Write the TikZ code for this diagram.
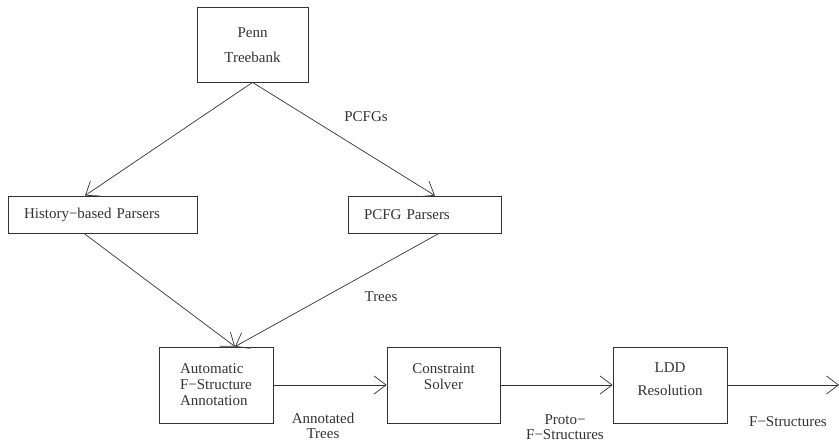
\documentclass[tikz,border=0pt]{standalone}
\usepackage{fontspec}
\setmainfont{Liberation Serif}
\usetikzlibrary{arrows.meta}

\begin{document}
\begin{tikzpicture}[x=1pt,y=-1pt,
    box/.style={draw=black!80,line width=0.8pt,inner sep=0pt,text=black!80,
      font=\fontsize{15}{16}\selectfont},
    lbl/.style={inner sep=0pt,text=black!80,align=center,
      font=\fontsize{15}{15}\selectfont},
    arr/.style={draw=black!80,line width=0.7pt,
      -{Straight Barb[length=12pt,width=18pt,line width=0.7pt]}}]
  \useasboundingbox (0,0) rectangle (839,442);

  % sources
  \node[box,minimum width=111pt,minimum height=75pt,align=center] (penn) at (252.5,44.5) {\mbox{}\\[-4pt]Penn\\[9pt]Treebank};

  % parsers
  \node[box,minimum height=37pt,text width=157pt,inner xsep=16pt,align=left] (hist) at (102.5,214.5) {History−based Parsers\\[3pt]};
  \node[box,minimum height=37pt,text width=121pt,inner xsep=16pt,align=left] (pcfg) at (424.5,214.5) {PCFG Parsers\\[3pt]};

  % pipeline
  \node[box,minimum width=114pt,minimum height=76pt,align=left] (auto) at (216,385) {Automatic\\F−Structure\\Annotation};
  \node[box,minimum width=113pt,minimum height=76pt,align=center] (cons) at (443.5,385) {Constraint\\Solver\\[0pt]\mbox{}};
  \node[box,minimum width=114pt,minimum height=76pt,align=center] (ldd) at (670,385) {LDD\\[7pt]Resolution\\[-4pt]\mbox{}};
  \coordinate (out) at (839,385);

  % edge labels
  \node[lbl] (lpcfgs) at (366,117) {PCFGs};
  \node[lbl] (ltrees) at (381,297) {Trees};
  \node[lbl] (lannot) at (323,426) {Annotated\\Trees};
  \node[lbl] (lproto) at (565,427) {Proto−\\F−Structures};
  \node[lbl] (lfstr) at (788,422) {F−Structures};

  \draw[arr] (penn.south) -- ([xshift=-17.5pt]hist.north);
  \draw[arr] (penn.south) -- ([xshift=10.5pt]pcfg.north);
  \draw[arr] ([xshift=-18.5pt]hist.south) -- ([xshift=19pt]auto.north);
  \draw[arr] ([xshift=14.5pt]pcfg.south) -- ([xshift=19pt]auto.north);

  \draw[arr] (auto.east) -- (cons.west);
  \draw[arr] (cons.east) -- (ldd.west);
  \draw[arr] (ldd.east) -- (out);
\end{tikzpicture}
\end{document}
